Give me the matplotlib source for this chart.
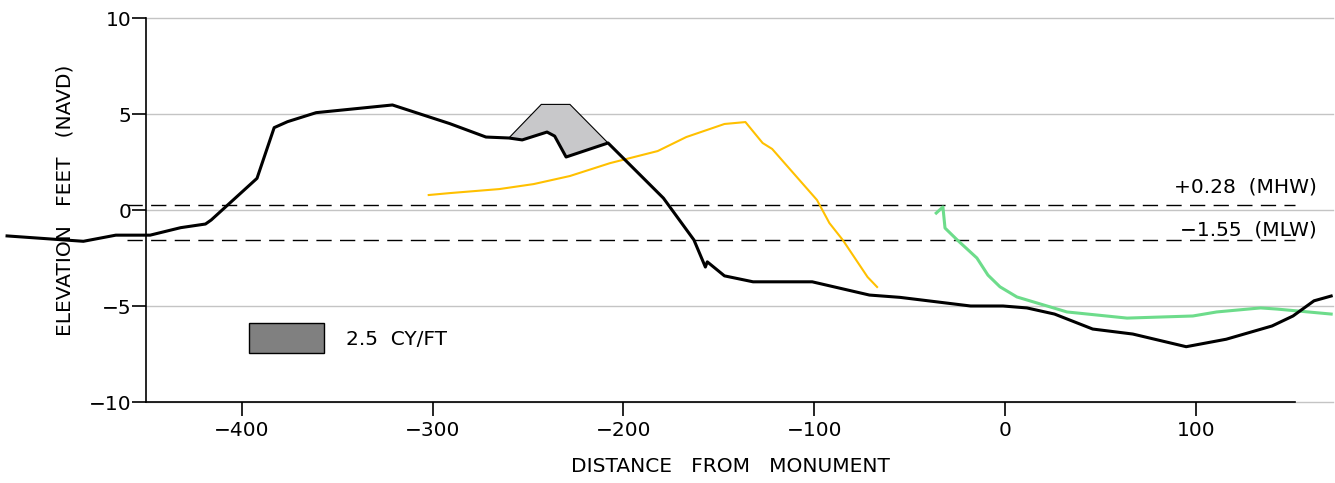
import matplotlib.pyplot as plt
from matplotlib.patches import Patch

# black profile (design / pre-fill survey)
prof_x = [-523, -483, -466, -448, -432, -419, -416, -392, -383, -376, -361, -321,
          -291, -272, -260, -253, -240, -236, -230, -208, -179, -163, -157, -156,
          -147, -132, -101, -71, -55, -18, -1, 11.5, 26, 46, 67, 95, 116, 140,
          151, 162, 171]
prof_y = [-1.35, -1.63, -1.31, -1.31, -0.92, -0.73, -0.52, 1.65, 4.29, 4.6, 5.07, 5.47,
          4.5, 3.8, 3.75, 3.65, 4.06, 3.85, 2.76, 3.49, 0.62, -1.56, -2.97, -2.7,
          -3.43, -3.74, -3.74, -4.43, -4.55, -5.0, -5.0, -5.1, -5.42, -6.2, -6.46, -7.12, -6.73, -6.04,
          -5.52, -4.73, -4.48]

# yellow profile
yel_x = [-302, -291, -265, -247, -228, -207, -182, -167, -147, -136, -127, -122,
         -98.5, -92, -85, -72, -67]
yel_y = [0.78, 0.88, 1.09, 1.35, 1.77, 2.44, 3.07, 3.8, 4.48, 4.58, 3.49, 3.18,
         0.52, -0.68, -1.56, -3.49, -4.01]

# green profile
grn_x = [-36, -32.5, -31.4, -25, -14.7, -8.9, -2.6, 6.3, 32.5, 64, 98.5, 111, 134,
         142.6, 171]
grn_y = [-0.16, 0.16, -0.94, -1.56, -2.5, -3.39, -4.0, -4.53, -5.31, -5.63, -5.52,
         -5.31, -5.1, -5.16, -5.42]

# fill template top edge (rest follows the black profile)
fill_top_x = [-260, -243, -228, -208]
fill_top_y = [3.75, 5.5, 5.5, 3.49]
fill_label = "2.5  CY/FT"

mhw = 0.28
mlw = -1.55

x_ticks = [-400, -300, -200, -100, 0, 100]
y_ticks = [-10, -5, 0, 5, 10]
x_left = -450
x_right = 152

plt.rcParams['font.family'] = ['DejaVu Sans']
fig = plt.figure(figsize=(13.35, 4.83), dpi=100)
ax = fig.add_axes([0, 1 - 402 / 483, 1, 384 / 483])
ax.set_xlim(-526.7, 173)
ax.set_ylim(-10, 10)

# gridlines
for yv in y_ticks:
    ax.plot([x_left, 172], [yv, yv], color='#c4c4c4', lw=1.0, zorder=0, clip_on=False)

# fill polygon
low = [(x, y) for x, y in zip(prof_x, prof_y) if fill_top_x[0] < x < fill_top_x[-1]]
poly_x = fill_top_x + [p[0] for p in reversed(low)]
poly_y = fill_top_y + [p[1] for p in reversed(low)]
ax.fill(poly_x, poly_y, facecolor='#c8c8ca', edgecolor='black', lw=0.8, zorder=2)

# tide lines
for lv in [mhw, mlw]:
    ax.plot([-460, x_right], [lv, lv], color='black', lw=1.0, dashes=(11, 6), zorder=1)
ax.text(163.5, 0.89, "%+.2f  (MHW)" % mhw, ha='right', va='baseline', fontsize=14.5)
ax.text(163.5, -1.35, ("%.2f  (MLW)" % mlw).replace("-", "\u2212"), ha='right',
        va='baseline', fontsize=14.5)

ax.plot(yel_x, yel_y, color='#ffc000', lw=1.5, zorder=3)
ax.plot(grn_x, grn_y, color='#6ddc8b', lw=2.2, zorder=3)
ax.plot(prof_x, prof_y, color='black', lw=2.2, zorder=4, clip_on=False)

# legend
leg = ax.legend(handles=[Patch(facecolor='#808080', edgecolor='black', lw=1.0, label=fill_label)],
                loc='center left', bbox_to_anchor=(-396, -6.67),
                bbox_transform=ax.transData, frameon=False, borderpad=0,
                borderaxespad=0, handlelength=3.7, handleheight=1.85,
                handletextpad=1.1, fontsize=14.5)

# spines
for s in ['top', 'right']:
    ax.spines[s].set_visible(False)
ax.spines['left'].set_position(('data', x_left))
ax.spines['left'].set_bounds(-10, 10)
ax.spines['bottom'].set_bounds(x_left, x_right)
ax.spines['left'].set_linewidth(1.2)
ax.spines['bottom'].set_linewidth(1.2)
ax.spines['bottom'].set_zorder(1)

ax.set_xticks(x_ticks)
ax.set_yticks(y_ticks)
ax.tick_params(axis='y', direction='out', length=10, width=1.2, pad=1, labelsize=14.5)
ax.tick_params(axis='x', direction='out', length=10, width=1.2, pad=4, labelsize=14.5)

fig.text(65 / 1335, 1 - 200 / 483, "ELEVATION   FEET   (NAVD)", rotation=90,
         ha='center', va='center', fontsize=14.5)
fig.text(730 / 1335, 1 - 467 / 483, "DISTANCE   FROM   MONUMENT",
         ha='center', va='center', fontsize=14.5)

fig.savefig("out.png", dpi=100)
